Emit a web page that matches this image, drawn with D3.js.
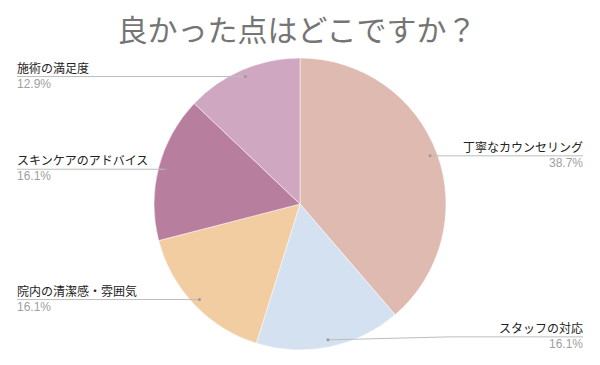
<!DOCTYPE html>
<html>
<head>
<meta charset="utf-8">
<script src="https://cdn.jsdelivr.net/npm/d3@7"></script>
<style>
  body { margin: 0; background: #fff; }
  svg { display: block; font-family: "Noto Sans CJK JP", "Noto Sans", sans-serif; }
</style>
</head>
<body>
<svg id="chart" width="600" height="365"></svg>
<script>
// data
const labels  = ["丁寧なカウンセリング", "スタッフの対応", "院内の清潔感・雰囲気", "スキンケアのアドバイス", "施術の満足度"];
const counts  = [12, 5, 5, 5, 4];
const percents = ["38.7%", "16.1%", "16.1%", "16.1%", "12.9%"];
const colors  = ["#dfbab1", "#d4e1f1", "#f2cda2", "#b87e9e", "#cfa7c0"];

const data = labels.map((l, i) => ({ label: l, count: counts[i], pct: percents[i], color: colors[i] }));

const svg = d3.select("#chart");
const cx = 300, cy = 204, r = 146;

svg.append("text")
  .attr("x", 297).attr("y", 41)
  .attr("text-anchor", "middle")
  .attr("fill", "#757575")
  .style("font-size", "30px")
  .text("良かった点はどこですか？");

const g = svg.append("g").attr("transform", `translate(${cx},${cy})`);
const pie = d3.pie().value(d => d.count).sort(null);
const arc = d3.arc().innerRadius(0).outerRadius(r);
const dotArc = d3.arc().innerRadius(r * 0.95).outerRadius(r * 0.95);

const arcs = pie(data);

g.selectAll("path")
  .data(arcs)
  .enter()
  .append("path")
  .attr("d", arc)
  .attr("fill", d => d.data.color)
  .attr("stroke", "#fff")
  .attr("stroke-width", 0.5);

// labels with leader lines
const lab = svg.append("g");
arcs.forEach(d => {
  const [px, py] = dotArc.centroid(d);
  const x = cx + px, y = cy + py;
  const mid = (d.startAngle + d.endAngle) / 2;
  const right = mid < Math.PI;
  const ly = (d.data.label === "スタッフの対応") ? y - 3 : y;
  const endX = right ? 583 : 17;
  const pts = right
    ? (ly !== y ? [[x, y], [450, ly], [endX, ly]] : [[x, y], [endX, ly]])
    : [[x, y], [endX, ly]];

  lab.append("path")
    .attr("d", d3.line()(pts))
    .attr("fill", "none")
    .attr("stroke", "#bdbdbd")
    .attr("stroke-width", 1);
  lab.append("circle")
    .attr("cx", x).attr("cy", y).attr("r", 1.5)
    .attr("fill", "#999");

  lab.append("text")
    .attr("x", endX).attr("y", ly - 4)
    .attr("text-anchor", right ? "end" : "start")
    .attr("fill", "#222")
    .style("font-size", "12px")
    .text(d.data.label);
  lab.append("text")
    .attr("x", endX).attr("y", ly + 11)
    .attr("text-anchor", right ? "end" : "start")
    .attr("fill", "#a0a0a0")
    .style("font-family", "'Liberation Sans', Arial, sans-serif")
    .style("font-size", "12px")
    .text(d.data.pct);
});
</script>
</body>
</html>
